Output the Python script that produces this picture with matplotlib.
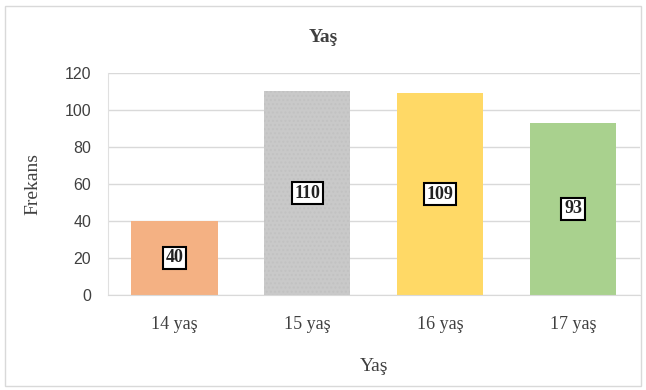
import matplotlib
matplotlib.use("Agg")
import matplotlib.pyplot as plt
from matplotlib.patches import Rectangle

categories = ["14 yaş", "15 yaş", "16 yaş", "17 yaş"]
frekans = [40, 110, 109, 93]
colors = ["#F4B183", "#C9C9C9", "#FFD966", "#A9D18E"]

serif = ["Liberation Serif", "DejaVu Serif"]
sans = ["Liberation Sans", "DejaVu Sans"]

fig = plt.figure(figsize=(6.46, 3.90), dpi=100)
ax = fig.add_axes([0.167, 0.244, 0.823, 0.569])

x = range(len(categories))
bars = ax.bar(x, frekans, width=0.65, color=colors, zorder=2)
# textured look on the grey bar
bars[1].set_hatch("....")
bars[1].set_edgecolor("#C2C2C2")
bars[1].set_linewidth(0)

for xi, v in zip(x, frekans):
    ax.text(xi, v / 2, str(v), ha="center", va="center", fontsize=13,
            fontweight="bold", family=serif, color="#222222", zorder=3,
            bbox=dict(boxstyle="square,pad=0.15", fc="white", ec="black", lw=1.5))

ax.set_xlim(-0.5, 3.5)
ax.set_ylim(0, 120)
ax.set_yticks(range(0, 121, 20))
ax.set_xticks(list(x))
ax.set_xticklabels(categories, family=serif, fontsize=13, color="#404040")
for lbl in ax.get_yticklabels():
    lbl.set_family(sans)
    lbl.set_fontsize(11.5)
    lbl.set_color("#404040")
ax.tick_params(axis="x", length=0, pad=15)
ax.tick_params(axis="y", length=0, pad=12)
ax.grid(axis="y", color="#D9D9D9", lw=1, zorder=0)
for s in ["top", "right"]:
    ax.spines[s].set_visible(False)
ax.spines["left"].set_color("#E0E0E0")
ax.spines["bottom"].set_color("#D9D9D9")

ax.set_ylabel("Frekans", family=serif, fontsize=14, color="#404040", labelpad=17)
ax.set_xlabel("Yaş", family=serif, fontsize=14, color="#404040", labelpad=18)
fig.text(0.5, 0.903, "Yaş", ha="center", va="center", family=serif,
         fontsize=14, fontweight="bold", color="#404040")

fig.patches.append(Rectangle((0.008, 0.01), 0.985, 0.975, transform=fig.transFigure,
                             fill=False, ec="#D9D9D9", lw=1))

fig.savefig("out.png", dpi=100)
